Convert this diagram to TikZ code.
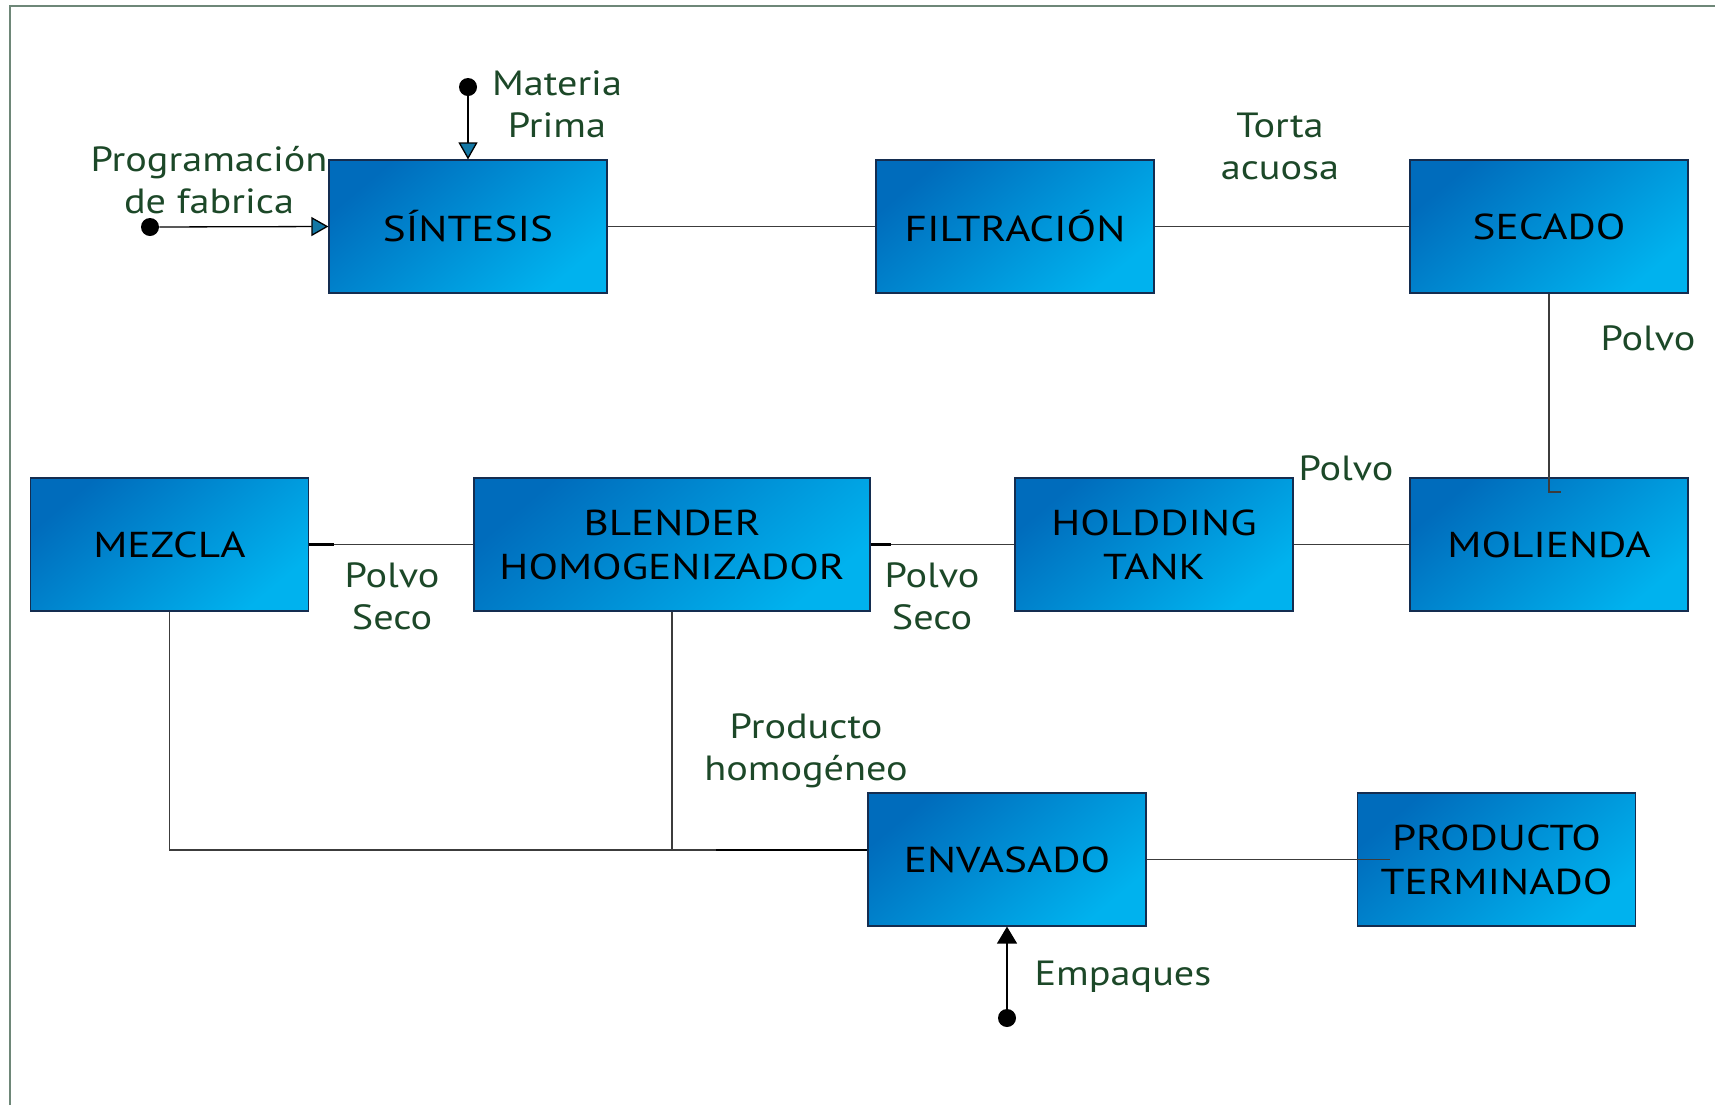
\documentclass[tikz,border=0pt]{standalone}
\usepackage{fontspec}
\setmainfont{PT Sans}
\newfontfamily\boxfont[FakeStretch=1.2]{PT Sans}
\newfontfamily\lblfont[FakeStretch=1.15]{PT Sans}
\usetikzlibrary{arrows.meta,calc}
\definecolor{bdark}{RGB}{0,108,188}
\definecolor{blight}{RGB}{0,178,238}
\definecolor{bline}{RGB}{20,45,80}
\definecolor{lblgreen}{RGB}{28,72,40}
\definecolor{framec}{RGB}{110,135,120}
\definecolor{tipblue}{RGB}{20,120,165}
\begin{document}
\begin{tikzpicture}[x=0.5pt,y=-0.5pt,
  box/.style={draw=bline, line width=0.6pt, top color=bdark, bottom color=blight, shading angle=40,
    minimum width=139pt, minimum height=66.5pt, inner sep=0pt, align=center,
    font=\boxfont\fontsize{18}{22}\selectfont, text=black},
  widebox/.style={box, minimum width=198pt},
  lbl/.style={text=lblgreen, align=center, font=\lblfont\fontsize{17.5}{21}\selectfont, inner sep=0pt},
  conn/.style={draw={rgb,255:red,60;green,60;blue,60}, line width=0.65pt},
  stub/.style={draw=black, line width=1.2pt},
  dot/.style={circle, fill=black, inner sep=0pt, minimum size=9pt},
  bluearrow/.style={conn, draw=black, -{Triangle[length=8.5pt,width=9.5pt,fill=tipblue]}},
  blackarrow/.style={conn, draw=black, -{Triangle[length=8.5pt,width=10pt]}},
  frame/.style={draw=framec, line width=0.8pt}]
\useasboundingbox (0,0) rectangle (1715,1105);
\draw[frame] (10,1105) -- (10,6) -- (1715,6);

% boxes
\node[box] (sin) at (468,226.5) {SÍNTESIS};
\node[box] (fil) at (1015,226.5) {FILTRACIÓN};
\node[box] (sec) at (1549,226.5) {SECADO};
\node[box] (mez) at (169.5,544.5) {MEZCLA};
\node[widebox] (ble) at (672,544.5) {BLENDER\\HOMOGENIZADOR};
\node[box] (hol) at (1154,544.5) {HOLDDING\\TANK};
\node[box] (mol) at (1549,544.5) {MOLIENDA};
\node[box] (env) at (1007,859.5) {ENVASADO};
\node[box] (pro) at (1496.5,859.5) {PRODUCTO\\TERMINADO};

% input dots
\node[dot] (mat) at (468,87) {};
\node[dot] (prog) at (150,227) {};
\node[dot] (emp) at (1007,1018) {};

% coordinates
\coordinate (hook) at (1561,492);
\coordinate (envin) at ($(env.west)+(0,-9.5)$);
\coordinate (stubstart) at (716,850);
\coordinate (proin) at ($(pro.west)+(33,0)$);

% connectors
\draw[conn] (sin.east) -- (fil.west);
\draw[conn] (fil.east) -- (sec.west);
\draw[conn] (sec.south) |- (hook);
\draw[conn] (hol.east) -- (mol.west);
\draw[conn] (ble.east) -- (hol.west);
\draw[stub] (ble.east) -- ++(20,0);
\draw[conn] (mez.east) -- (ble.west);
\draw[stub] (mez.east) -- ++(25,0);
\draw[conn] (mez.south) |- (envin);
\draw[conn] (ble.south) -- (ble.south |- envin);
\draw[stub] (stubstart) -- (envin);
\draw[conn] (env.east) -- (proin);
\draw[bluearrow] (mat) -- (sin.north);
\draw[bluearrow] (prog) -- (sin.west);
\draw[blackarrow] (emp) -- (env.south);

% labels
\node[lbl] (lmat) at (557,104) {Materia\\Prima};
\node[lbl] (lprog) at (209,180.5) {Programación\\de fabrica};
\node[lbl] (ltorta) at (1280,146.5) {Torta\\acuosa};
\node[lbl, anchor=base] (lpolvo1) at (1648,350) {Polvo};
\node[lbl, anchor=base] (lpolvo2) at (1346,480) {Polvo};
\node[lbl] (lps1) at (392,596.5) {Polvo\\Seco};
\node[lbl] (lps2) at (932,596.5) {Polvo\\Seco};
\node[lbl] (lprod) at (806,750.5) {Producto\\homogéneo};
\node[lbl, anchor=base] (lemp) at (1123,985) {Empaques};
\end{tikzpicture}
\end{document}
